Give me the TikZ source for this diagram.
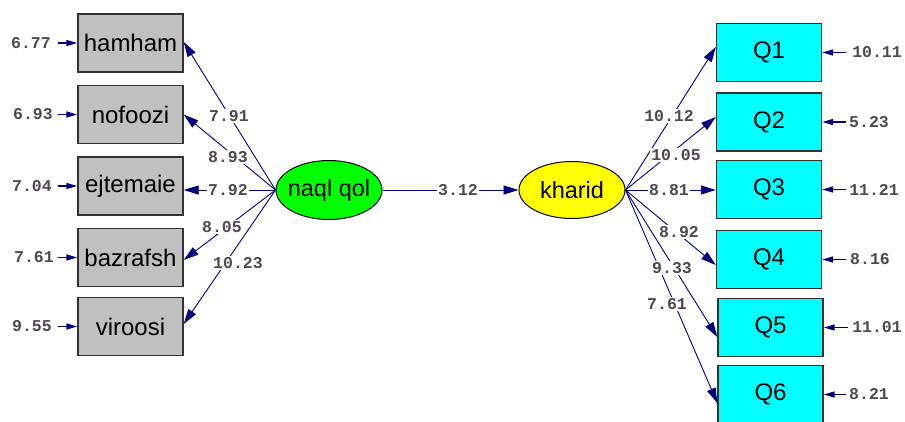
\documentclass[tikz,border=0pt]{standalone}
\usepackage{fontspec}
\setmainfont{Liberation Sans}
\newfontfamily\monof{Liberation Mono}
\usetikzlibrary{arrows.meta,shapes.geometric}
\definecolor{navyline}{RGB}{0,0,128}
\definecolor{boxgray}{RGB}{192,192,192}
\definecolor{boxcyan}{RGB}{0,255,255}
\definecolor{latgreen}{RGB}{0,255,0}
\definecolor{latyellow}{RGB}{255,255,0}
\definecolor{numcol}{RGB}{80,72,80}
\definecolor{boxedge}{RGB}{50,50,50}
\begin{document}
\begin{tikzpicture}[x=1pt,y=-1pt,
  obs/.style={draw=boxedge, line width=1.4pt, minimum width=105pt, minimum height=58pt, inner sep=0pt, font=\fontsize{24}{26}\selectfont},
  leftobs/.style={obs, fill=boxgray},
  rightobs/.style={obs, fill=boxcyan},
  latent/.style={ellipse, draw=black, line width=1pt, minimum width=106pt, minimum height=59pt, inner sep=0pt, font=\fontsize{23.5}{26}\selectfont},
  num/.style={font=\monof\bfseries\fontsize{16.5}{18}\selectfont, text=numcol, fill=white, inner sep=1.5pt},
  errnum/.style={font=\monof\bfseries\fontsize{16.5}{18}\selectfont, text=numcol, inner sep=2pt},
  pathline/.style={draw=navyline, line width=0.9pt, -{Triangle[length=15pt,width=9pt]}},
  errline/.style={draw=navyline, line width=1.5pt, -{Triangle[length=11pt,width=6pt]}}
]
\useasboundingbox (0,0) rectangle (905,421);
\fill[white] (0,0) rectangle (905,421);

% left indicators
\node[leftobs] (ham) at (130.5,43) {hamham};
\node[leftobs] (nof) at (130.5,114.5) {nofoozi};
\node[leftobs] (ejt) at (130.5,186) {ejtemaie};
\node[leftobs] (baz) at (130.5,257.5) {bazrafsh};
\node[leftobs] (vir) at (130.5,326.5) {viroosi};

% right indicators
\node[rightobs] (q1) at (769,52.5) {Q1};
\node[rightobs] (q2) at (769,122) {Q2};
\node[rightobs] (q3) at (769,189.5) {Q3};
\node[rightobs] (q4) at (769,259.5) {Q4};
\node[rightobs] (q5) at (770.5,327.5) {Q5};
\node[rightobs] (q6) at (770.5,394.5) {Q6};

% latent variables
\node[latent, fill=latgreen] (naql) at (329,190) {\makebox[0pt]{naql qol}};
\node[latent, fill=latyellow, minimum width=106pt, minimum height=57pt] (kharid) at (572,190) {\makebox[0pt]{kharid}};

% paths from naql qol
\draw[pathline] (naql.west) -- ([yshift=1pt]ham.east);
\draw[pathline] (naql.west) -- (nof.east);
\draw[pathline] (naql.west) -- ([yshift=-4pt]ejt.east);
\draw[pathline] (naql.west) -- ([yshift=-2.5pt]baz.east);
\draw[pathline] (naql.west) -- ([yshift=2.5pt]vir.east);

% structural path
\draw[pathline] (naql.east) -- (kharid.west);

% paths from kharid
\draw[pathline] (kharid.east) -- ([yshift=5.5pt]q1.west);
\draw[pathline] (kharid.east) -- ([yshift=5pt]q2.west);
\draw[pathline] (kharid.east) -- ([yshift=-0.5pt]q3.west);
\draw[pathline] (kharid.east) -- ([yshift=-5.5pt]q4.west);
\draw[pathline] (kharid.east) -- ([yshift=-9.5pt]q5.west);
\draw[pathline] (kharid.east) -- ([yshift=-8.5pt]q6.west);

% path labels
\node[num] (l1) at (229,116) {7.91};
\node[num] (l2) at (228,157) {8.93};
\node[num] (l3) at (228,190) {7.92};
\node[num] (l4) at (222,227) {8.05};
\node[num] (l5) at (238,263) {10.23};
\node[num] (l6) at (458,190) {3.12};
\node[num] (r1) at (669,116) {10.12};
\node[num] (r2) at (676,155) {10.05};
\node[num] (r3) at (669,190) {8.81};
\node[num] (r4) at (679,232) {8.92};
\node[num] (r5) at (672,268) {9.33};
\node[num] (r6) at (667,304) {7.61};

% error variances left
\node[errnum] (e1) at (31,43) {6.77};
\node[errnum] (e2) at (33,114.5) {6.93};
\node[errnum] (e3) at (32,186) {7.04};
\node[errnum] (e4) at (34,257.5) {7.61};
\node[errnum] (e5) at (32,326.5) {9.55};
\draw[errline] (58,43) coordinate (a1) -- (ham.west);
\draw[errline] (58,114.5) coordinate (a2) -- (nof.west);
\draw[errline] (58,186) coordinate (a3) -- (ejt.west);
\draw[errline] (58,257.5) coordinate (a4) -- (baz.west);
\draw[errline] (58,326.5) coordinate (a5) -- (vir.west);

% error variances right
\node[errnum] (f1) at (877,52.5) {10.11};
\node[errnum] (f2) at (869,122) {5.23};
\node[errnum] (f3) at (874,189.5) {11.21};
\node[errnum] (f4) at (870,259.5) {8.16};
\node[errnum] (f5) at (877,327.5) {11.01};
\node[errnum] (f6) at (869,394.5) {8.21};
\draw[errline] (846,52.5) coordinate (b1) -- (q1.east);
\draw[errline] (846,122) coordinate (b2) -- (q2.east);
\draw[errline] (846,189.5) coordinate (b3) -- (q3.east);
\draw[errline] (846,259.5) coordinate (b4) -- (q4.east);
\draw[errline] (848,327.5) coordinate (b5) -- (q5.east);
\draw[errline] (846,394.5) coordinate (b6) -- (q6.east);
\end{tikzpicture}
\end{document}
